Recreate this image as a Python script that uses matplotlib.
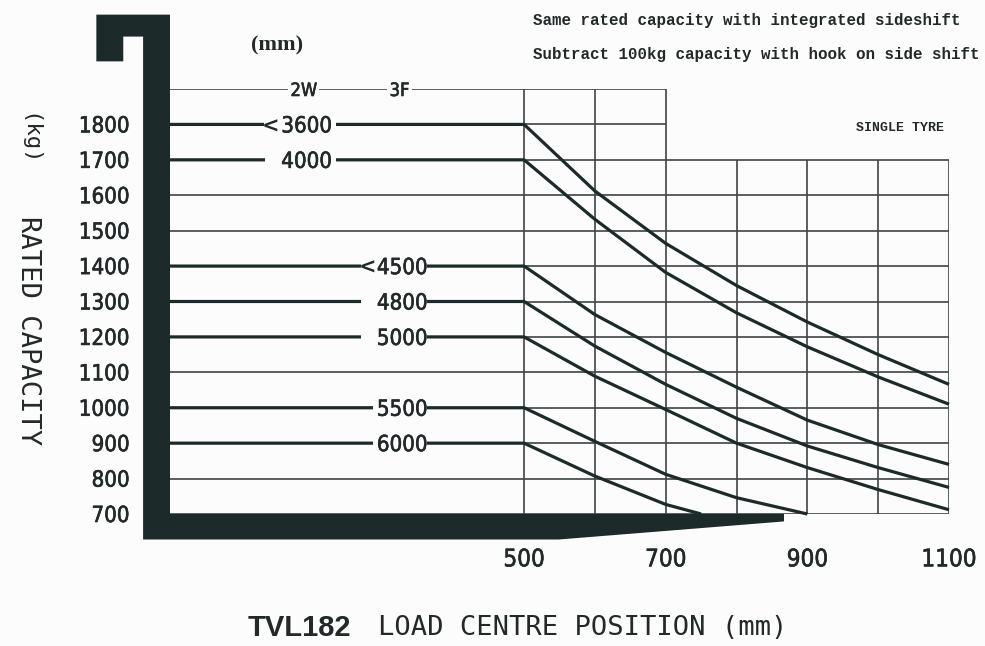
import numpy as np
import matplotlib
matplotlib.use('Agg')
import matplotlib.pyplot as plt
import matplotlib.patheffects as pe
from matplotlib.patches import Polygon, Rectangle
from matplotlib import font_manager as fm
from matplotlib.font_manager import FontProperties

# ---- data ----
load_centre = [0, 500, 600, 700, 800, 900, 1000, 1100]
cap_3600 = [1800, 1800, 1612, 1464, 1345, 1242, 1150, 1066]
cap_4000 = [1700, 1700, 1532, 1382, 1268, 1172, 1087, 1010]
cap_4500 = [1400, 1400, 1263, 1156, 1058, 965, 896, 840]
cap_4800 = [1300, 1300, 1174, 1066, 970, 892, 831, 775]
cap_5000 = [1200, 1200, 1089, 995, 900, 831, 769, 712]
lc_5500 = [0, 500, 600, 700, 800, 900]
cap_5500 = [1000, 1000, 905, 812, 746, 700]
lc_6000 = [0, 500, 600, 700, 750]
cap_6000 = [900, 900, 807, 727, 700]

mast_heights = ['3600', '4000', '4500', '4800', '5000', '5500', '6000']
mast_type = ['2W', '2W', '3F', '3F', '3F', '3F', '3F']
curves = [(load_centre, cap_3600), (load_centre, cap_4000), (load_centre, cap_4500),
          (load_centre, cap_4800), (load_centre, cap_5000), (lc_5500, cap_5500),
          (lc_6000, cap_6000)]

y_ticks = [700, 800, 900, 1000, 1100, 1200, 1300, 1400, 1500, 1600, 1700, 1800]
x_ticks = [500, 700, 900, 1100]

# grid structure (level, from, to)
grid_rows = [(1900, 0, 700), (1800, 500, 700), (1700, 500, 1100), (1600, 0, 1100),
             (1500, 0, 1100), (1400, 500, 1100), (1300, 500, 1100), (1200, 500, 1100),
             (1100, 0, 1100), (1000, 500, 1100), (900, 500, 1100), (800, 0, 1100),
             (700, 0, 1100)]
grid_cols = [(500, 1900), (600, 1900), (700, 1900), (800, 1700), (900, 1700),
             (1000, 1700), (1100, 1700)]

# ---- style ----
BG = '#fcfcfd'
DARK = '#1d2a2a'
GRID = '#404444'
TXT = '#232929'
MONO = ['DejaVu Sans Mono']
HEAVY = [pe.withStroke(linewidth=0.45, foreground=TXT)]


def pick_narrow():
    """condensed face for the digits, with a size that gives ~46px for '1800'"""
    fonts = fm.fontManager.ttflist
    for f in fonts:
        if f.name == 'Liberation Sans Narrow' and f.style == 'normal' and f.weight in (400, 'normal'):
            return f.fname, 18.5
    for f in fonts:
        cond = 'Condensed' in f.name or 'condensed' in str(f.stretch)
        if f.name.startswith('DejaVu Sans') and cond and 'Mono' not in f.name \
                and f.style == 'normal' and f.weight in (400, 'normal'):
            return f.fname, 15.5
    return None, 16


narrow_file, narrow_size = pick_narrow()


def narrow(size_scale=1.0):
    if narrow_file:
        fp = FontProperties(fname=narrow_file)
    else:
        fp = FontProperties(family=['Liberation Sans', 'DejaVu Sans'])
    fp.set_size(narrow_size * size_scale)
    return fp


# label layout (x in mm): digits centre, gap start, gap end, chevron
label_x = {'2W': 193, '3F': 328}
gap_start = [133, 134, 270, 270, 270, 287, 287]
gap_end = [234, 234, 363, 363, 363, 363, 363]
chevron = [True, False, True, False, False, False, False]

fig = plt.figure(figsize=(9.85, 6.46), dpi=100, facecolor=BG)
ax = fig.add_axes([170 / 985, 132 / 646, 779 / 985, 425 / 646])
ax.set_xlim(0, 1100)
ax.set_ylim(700, 1900)
ax.patch.set_alpha(0)
for s in ax.spines.values():
    s.set_visible(False)

# grid
for lvl, x0, x1 in grid_rows:
    ax.plot([x0, x1], [lvl, lvl], color=GRID, lw=1.2, zorder=2, solid_capstyle='butt')
for xc, top in grid_cols:
    ax.plot([xc, xc], [700, top], color=GRID, lw=1.2, zorder=2, solid_capstyle='butt')

# capacity curves
for xs, ys in curves:
    ax.plot(xs, ys, color=DARK, lw=2.3, zorder=3, solid_joinstyle='round',
            solid_capstyle='butt', clip_on=False)

# mast + fork silhouette
mast = Polygon([(-104, 2110), (0, 2110), (0, 700), (867, 700), (867, 679),
                (549, 628), (-38, 628), (-38, 2048), (-66, 2048), (-66, 1978),
                (-104, 1978)], closed=True, fc=DARK, ec='none', zorder=4, clip_on=False)
ax.add_patch(mast)

# mast height labels on the flat part of each curve
for i, (name, (xs, ys)) in enumerate(zip(mast_heights, curves)):
    lvl = ys[0]
    ax.add_patch(Rectangle((gap_start[i], lvl - 14), gap_end[i] - gap_start[i], 28,
                           fc=BG, ec='none', zorder=3.5))
    ax.text(label_x[mast_type[i]], lvl, name, fontproperties=narrow(1.03),
            color=TXT, ha='center', va='center_baseline', zorder=5, path_effects=HEAVY)
    if chevron[i]:
        ax.text(gap_start[i] + 9, lvl, '<', family=['DejaVu Sans'], fontweight='bold',
                fontsize=15, color=TXT, ha='center', va='center_baseline', zorder=5)

for name in ['2W', '3F']:
    ax.text(label_x[name] - 4, 1900, name, fontproperties=narrow(0.85), color=TXT,
            ha='center', va='center_baseline', zorder=5, path_effects=HEAVY,
            bbox=dict(boxstyle='square,pad=0.12', fc=BG, ec='none'))

# ticks
ax.set_yticks(y_ticks)
ax.set_yticklabels([str(v) for v in y_ticks], color=TXT)
for lbl in ax.get_yticklabels():
    lbl.set_fontproperties(narrow(1.03))
    lbl.set_path_effects(HEAVY)
ax.set_xticks(x_ticks)
ax.set_xticklabels([str(v) for v in x_ticks], color=TXT)
for lbl in ax.get_xticklabels():
    lbl.set_fontproperties(narrow(1.12))
    lbl.set_path_effects(HEAVY)
ax.tick_params(axis='y', length=0, pad=29)
ax.tick_params(axis='x', length=0, pad=24)

# texts around the chart
fig.text(277 / 985, 1 - 45 / 646, '(mm)', family=['Liberation Serif'], fontweight='bold',
         fontsize=16, color=TXT, ha='center', va='center')
fig.text(533 / 985, 1 - 20 / 646, 'Same rated capacity with integrated sideshift',
         family=['Liberation Mono'], fontweight='bold', fontsize=11.4, color=TXT,
         ha='left', va='center')
fig.text(533 / 985, 1 - 55 / 646, 'Subtract 100kg capacity with hook on side shift',
         family=['Liberation Mono'], fontweight='bold', fontsize=11.4, color=TXT,
         ha='left', va='center')
fig.text(900 / 985, 1 - 128 / 646, 'SINGLE TYRE', family=['Liberation Mono'],
         fontweight='bold', fontsize=9.5, color=TXT, ha='center', va='center')

fig.text(28 / 985, 1 - 331 / 646, 'RATED CAPACITY', family=MONO, fontsize=19.5,
         color=TXT, rotation=-90, ha='center', va='center')
fig.text(28 / 985, 1 - 140 / 646, '(kg)', family=MONO, fontsize=16,
         color=TXT, rotation=-90, ha='center', va='center')

fig.text(248 / 985, 1 - 628 / 646, 'TVL182', family=['Liberation Sans', 'DejaVu Sans'],
         fontweight='bold', fontsize=21, color=TXT, ha='left', va='center')
fig.text(378 / 985, 1 - 628 / 646, 'LOAD CENTRE POSITION (mm)', family=MONO,
         fontsize=19.5, color=TXT, ha='left', va='center')

fig.savefig('out.png', dpi=100, facecolor=BG)
